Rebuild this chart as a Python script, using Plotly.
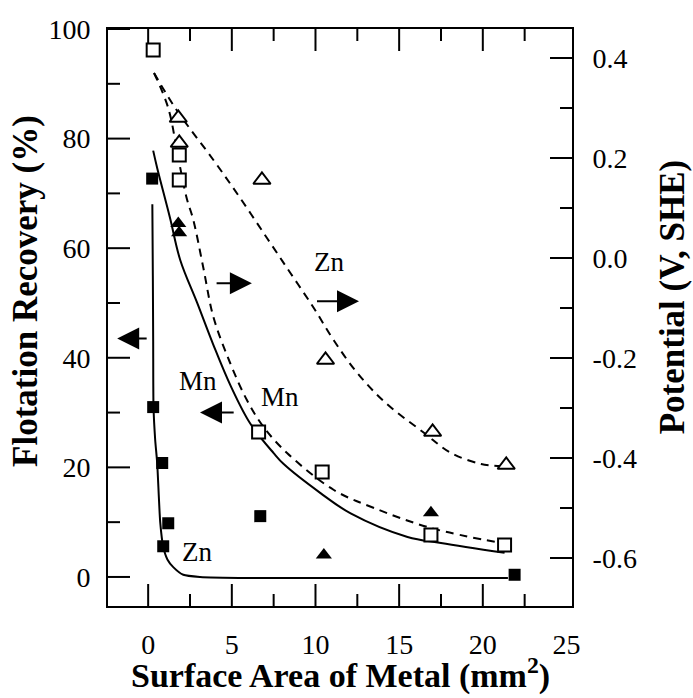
import plotly.graph_objects as go

# ---------------- data ----------------
# Flotation recovery (left axis, %)
zn_rec_x = [0.24, 0.3, 0.84, 1.2, 0.9, 6.7, 21.9]
zn_rec_y = [72.7, 31.0, 20.8, 9.8, 5.6, 11.1, 0.4]
mn_rec_x = [1.8, 1.85, 10.5, 16.9]
mn_rec_y = [64.5, 62.8, 4.0, 11.7]

# Potential (right axis, V SHE)
mn_pot_x = [0.3, 1.86, 1.86, 6.6, 10.4, 16.9, 21.3]
mn_pot_y = [0.416, 0.206, 0.156, -0.348, -0.428, -0.554, -0.574]
zn_pot_x = [1.8, 1.86, 6.8, 10.6, 17.0, 21.4]
zn_pot_y = [0.28, 0.23, 0.156, -0.204, -0.348, -0.414]

# Fitted curves
zn_rec_fit_x = [0.25, 0.28, 0.3, 0.32, 0.42, 0.54, 0.72, 0.9, 1.15, 1.5, 2.1, 3.1, 6.0, 12.0, 21.5]
zn_rec_fit_y = [68.0, 55.0, 43.0, 31.0, 25.0, 20.8, 10.0, 5.5, 3.2, 1.8, 0.4, 0.0, -0.2, -0.2, -0.2]
mn_rec_fit_x = [0.3, 0.55, 1.3, 1.92, 2.93, 3.89, 4.91, 6.1, 7.5, 8.1, 10.3, 12.1, 15.5, 17.5, 21.3]
mn_rec_fit_y = [77.8, 74.5, 65.6, 57.8, 50.0, 42.4, 35.0, 28.0, 22.6, 20.6, 15.3, 11.6, 7.3, 6.2, 4.4]
mn_pot_fit_x = [0.35, 1.2, 1.8, 2.3, 2.7, 3.3, 3.9, 4.9, 5.9, 6.9, 8.3, 11.1, 13.5, 16.9, 21.1]
mn_pot_fit_y = [0.37, 0.30, 0.20, 0.12, 0.076, -0.02, -0.118, -0.21, -0.284, -0.338, -0.39, -0.464, -0.50, -0.54, -0.57]
zn_pot_fit_x = [0.35, 1.7, 3.9, 5.5, 7.1, 8.5, 9.9, 11.1, 12.5, 14.2, 16.5, 18.1, 19.9, 21.1]
zn_pot_fit_y = [0.37, 0.296, 0.196, 0.12, 0.04, -0.03, -0.10, -0.165, -0.23, -0.29, -0.35, -0.39, -0.412, -0.416]

# Axis ticks
x_ticks = [0, 5, 10, 15, 20, 25]
x_tick_marks = [0, 5, 10, 15, 20]
x_minor = [2.5, 7.5, 12.5, 17.5, 22.5]
y_ticks = [0, 20, 40, 60, 80, 100]
y_minor = [10, 30, 50, 70, 90]
y2_ticks = [-0.6, -0.4, -0.2, 0.0, 0.2, 0.4]
y2_labels = ["-0.6", "-0.4", "-0.2", "0.0", "0.2", "0.4"]
y2_minor = [-0.5, -0.3, -0.1, 0.1, 0.3]

# Axis ranges
x_range = [-2.4, 25.33]
y_range = [-5.3, 100]
y2_range = [-0.696, 0.458]

# Text labels (x, left-axis y, text)
label_x = [10.8, 3.0, 7.9, 2.9]
label_y = [57.4, 35.8, 32.8, 4.6]
label_text = ["Zn", "Mn", "Mn", "Zn"]

# Arrows: tail -> head (x, left-axis y)
arrow_tail_x = [0.0, 4.0, 10.0, 5.2]
arrow_head_x = [-1.85, 6.2, 12.6, 3.1]
arrow_y = [43.5, 53.6, 50.3, 30.0]

FONT = "Liberation Serif, Times New Roman, serif"
W, H = 693, 698
M_L, M_R, M_T, M_B = 108, 121, 29, 92
PLOT_W = W - M_L - M_R
PLOT_H = H - M_T - M_B
MAJOR_LEN = 22
MINOR_LEN = 12

# px -> data-unit conversions (for inside tick marks)
ux = (x_range[1] - x_range[0]) / PLOT_W
uy = (y_range[1] - y_range[0]) / PLOT_H
uy2 = (y2_range[1] - y2_range[0]) / PLOT_H

fig = go.Figure()

# ---- tick marks as line traces ----
tx, ty = [], []
for vals, ln in ((x_tick_marks, MAJOR_LEN), (x_minor, MINOR_LEN)):
    for v in vals:
        tx += [v, v, None, v, v, None]
        ty += [y_range[0], y_range[0] + ln * uy, None, y_range[1], y_range[1] - ln * uy, None]
for vals, ln in ((y_ticks, MAJOR_LEN), (y_minor, MINOR_LEN)):
    for v in vals:
        tx += [x_range[0], x_range[0] + ln * ux, None]
        ty += [v, v, None]
fig.add_trace(go.Scatter(x=tx, y=ty, mode="lines", line=dict(color="black", width=2),
                         showlegend=False, hoverinfo="skip", cliponaxis=False))
rx, ry = [], []
for vals, ln in ((y2_ticks, MAJOR_LEN), (y2_minor, MINOR_LEN)):
    for v in vals:
        rx += [x_range[1], x_range[1] - ln * ux, None]
        ry += [v, v, None]
fig.add_trace(go.Scatter(x=rx, y=ry, mode="lines", yaxis="y2", line=dict(color="black", width=2),
                         showlegend=False, hoverinfo="skip", cliponaxis=False))

line_style = dict(color="black", width=2)
dash_style = dict(color="black", width=2, dash="8px,6px")

fig.add_trace(go.Scatter(x=zn_rec_fit_x, y=zn_rec_fit_y, mode="lines",
                         line=dict(**line_style, shape="spline", smoothing=0.6),
                         showlegend=False, hoverinfo="skip"))
fig.add_trace(go.Scatter(x=mn_rec_fit_x, y=mn_rec_fit_y, mode="lines",
                         line=dict(**line_style, shape="spline", smoothing=1.0),
                         showlegend=False, hoverinfo="skip"))
fig.add_trace(go.Scatter(x=mn_pot_fit_x, y=mn_pot_fit_y, mode="lines", yaxis="y2",
                         line=dict(**dash_style, shape="spline", smoothing=1.0),
                         showlegend=False, hoverinfo="skip"))
fig.add_trace(go.Scatter(x=zn_pot_fit_x, y=zn_pot_fit_y, mode="lines", yaxis="y2",
                         line=dict(**dash_style, shape="spline", smoothing=1.0),
                         showlegend=False, hoverinfo="skip"))

fig.add_trace(go.Scatter(x=zn_rec_x, y=zn_rec_y, mode="markers", name="Zn recovery",
                         marker=dict(symbol="square", size=12, color="black"),
                         showlegend=False))
fig.add_trace(go.Scatter(x=mn_rec_x, y=mn_rec_y, mode="markers", name="Mn recovery",
                         marker=dict(symbol="triangle-up", size=14, color="black"),
                         showlegend=False))
fig.add_trace(go.Scatter(x=mn_pot_x, y=mn_pot_y, mode="markers", yaxis="y2", name="Mn potential",
                         marker=dict(symbol="square", size=13, color="white",
                                     line=dict(color="black", width=2)),
                         showlegend=False))
fig.add_trace(go.Scatter(x=zn_pot_x, y=zn_pot_y, mode="markers", yaxis="y2", name="Zn potential",
                         marker=dict(symbol="triangle-up", size=15, color="white",
                                     line=dict(color="black", width=2)),
                         showlegend=False))

annotations = []
for lx, ly, lt in zip(label_x, label_y, label_text):
    annotations.append(dict(x=lx, y=ly, xref="x", yref="y", text=lt, showarrow=False,
                            font=dict(family=FONT, size=27, color="black")))
for t0, h0, ay in zip(arrow_tail_x, arrow_head_x, arrow_y):
    annotations.append(dict(x=h0, y=ay, ax=t0, ay=ay, xref="x", yref="y",
                            axref="x", ayref="y", text="", showarrow=True,
                            arrowhead=2, arrowsize=2.2, arrowwidth=2, arrowcolor="black"))

# axis titles
title_font = dict(family=FONT, size=35, color="black")
annotations.append(dict(text="<b>Flotation Recovery (%)</b>", xref="paper", yref="paper",
                        x=0, y=0.546, xshift=-82, textangle=-90, showarrow=False,
                        xanchor="center", yanchor="middle", font=title_font))
annotations.append(dict(text="<b>Potential (V, SHE)</b>", xref="paper", yref="paper",
                        x=1, y=0.535, xshift=100, textangle=-90, showarrow=False,
                        xanchor="center", yanchor="middle", font=title_font))
annotations.append(dict(text="<b>Surface Area of Metal (mm<sup>2</sup>)</b>", xref="paper",
                        yref="paper", x=0.5, y=0, yshift=-67, showarrow=False,
                        xanchor="center", yanchor="middle",
                        font=dict(family=FONT, size=34, color="black")))

axis_common = dict(showline=True, linewidth=2, linecolor="black", showgrid=False,
                   zeroline=False, ticks="",
                   tickfont=dict(family=FONT, size=28, color="black"))

fig.update_layout(
    width=W, height=H,
    margin=dict(l=M_L, r=M_R, t=M_T, b=M_B),
    paper_bgcolor="white", plot_bgcolor="white",
    showlegend=False,
    font=dict(family=FONT, color="black"),
    xaxis=dict(**axis_common, range=x_range, tickmode="array", tickvals=x_ticks,
               mirror=True, ticklabelstandoff=12),
    yaxis=dict(**axis_common, range=y_range, tickmode="array", tickvals=y_ticks,
               ticklabelstandoff=10),
    yaxis2=dict(**axis_common, overlaying="y", side="right", range=y2_range,
                tickmode="array", tickvals=y2_ticks, ticktext=y2_labels,
                ticklabelstandoff=13),
    annotations=annotations,
)

fig.write_html("out.html")
